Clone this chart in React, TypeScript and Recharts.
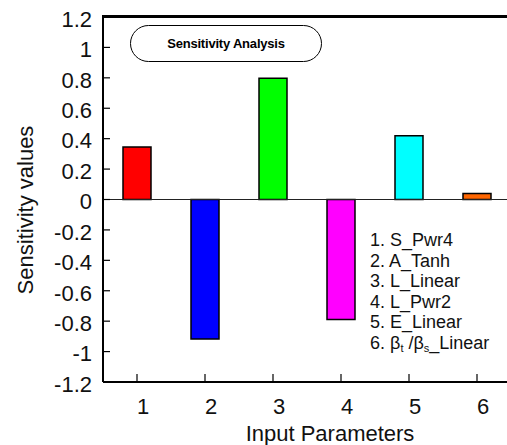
import React from 'react';
import {
  BarChart,
  Bar,
  Cell,
  XAxis,
  YAxis,
  ReferenceLine
} from 'recharts';

// values
const categories = ['1', '2', '3', '4', '5', '6'];
const sensitivity = [0.345, -0.918, 0.797, -0.789, 0.419, 0.04];
const barColors = ['#ff0000', '#0000ff', '#00ff00', '#ff00ff', '#00ffff', '#ff6600'];
const yTicks = [-1.2, -1, -0.8, -0.6, -0.4, -0.2, 0, 0.2, 0.4, 0.6, 0.8, 1, 1.2];
const parameterNames = ['S_Pwr4', 'A_Tanh', 'L_Linear', 'L_Pwr2', 'E_Linear'];

const data = categories.map((c, i) => ({ param: c, value: sensitivity[i] }));

const FONT = '"Liberation Sans", Arial, sans-serif';

const YLabel = () => (
  <text
    x={25}
    y={210}
    transform="rotate(-90 25 210)"
    textAnchor="middle"
    dominantBaseline="central"
    fontSize={22}
    fontFamily={FONT}
    fill="#111"
  >
    Sensitivity values
  </text>
);

const XLabel = () => (
  <text x={330} y={441} textAnchor="middle" fontSize={22} fontFamily={FONT} fill="#111">
    Input Parameters
  </text>
);

export default function App() {
  return (
    <div style={{ position: 'absolute', left: 0, top: 0, width: 507, height: 445, overflow: 'hidden', background: '#fff' }}>
      <BarChart
        width={515}
        height={445}
        data={data}
        margin={{ top: 17, right: 4, bottom: 0, left: 0 }}
        style={{ fontFamily: FONT }}
      >
        <ReferenceLine y={0} stroke="#222" strokeWidth={1.2} />
        <XAxis
          dataKey="param"
          height={63}
          axisLine={{ stroke: '#000', strokeWidth: 2 }}
          tickLine={{ stroke: '#000', strokeWidth: 1.2 }}
          tickSize={-8}
          tickMargin={24}
          tick={{ fontSize: 22, fill: '#111', dx: 6 }}
          label={<XLabel />}
        />
        <YAxis
          width={103}
          domain={[-1.2, 1.2]}
          ticks={yTicks}
          interval={0}
          allowDataOverflow
          axisLine={{ stroke: '#000', strokeWidth: 2 }}
          tickLine={{ stroke: '#000', strokeWidth: 1.2 }}
          tickSize={-7}
          tickMargin={18}
          tick={{ fontSize: 22, fill: '#111', dy: 2 }}
          label={<YLabel />}
        />
        <Bar dataKey="value" barSize={28} stroke="#000" strokeWidth={1.5} isAnimationActive={false}>
          {data.map((d, i) => (
            <Cell key={d.param} fill={barColors[i]} />
          ))}
        </Bar>
      </BarChart>

      {/* top frame line of the plot box */}
      <div style={{ position: 'absolute', left: 102, top: 15, width: 405, height: 3, background: '#000', zIndex: 5 }} />

      <div
        style={{
          position: 'absolute',
          left: 130,
          top: 25,
          width: 192,
          height: 37,
          boxSizing: 'border-box',
          border: '1.5px solid #000',
          borderRadius: 19,
          display: 'flex',
          alignItems: 'center',
          justifyContent: 'center',
          fontFamily: FONT,
          fontWeight: 'bold',
          fontSize: 13,
          letterSpacing: -0.2,
          color: '#000',
          background: '#fff'
        }}
      >
        Sensitivity Analysis
      </div>

      <div
        style={{
          position: 'absolute',
          left: 370,
          top: 230,
          fontFamily: FONT,
          fontSize: 18,
          lineHeight: '20.6px',
          color: '#111',
          whiteSpace: 'nowrap'
        }}
      >
        {parameterNames.map((n, i) => (
          <div key={n}>{`${i + 1}. ${n}`}</div>
        ))}
        <div>
          6. β<sub style={{ fontSize: 11, verticalAlign: 'baseline', position: 'relative', top: 3 }}>t</sub> /β
          <sub style={{ fontSize: 11, verticalAlign: 'baseline', position: 'relative', top: 3 }}>s</sub>_Linear
        </div>
      </div>
    </div>
  );
}
